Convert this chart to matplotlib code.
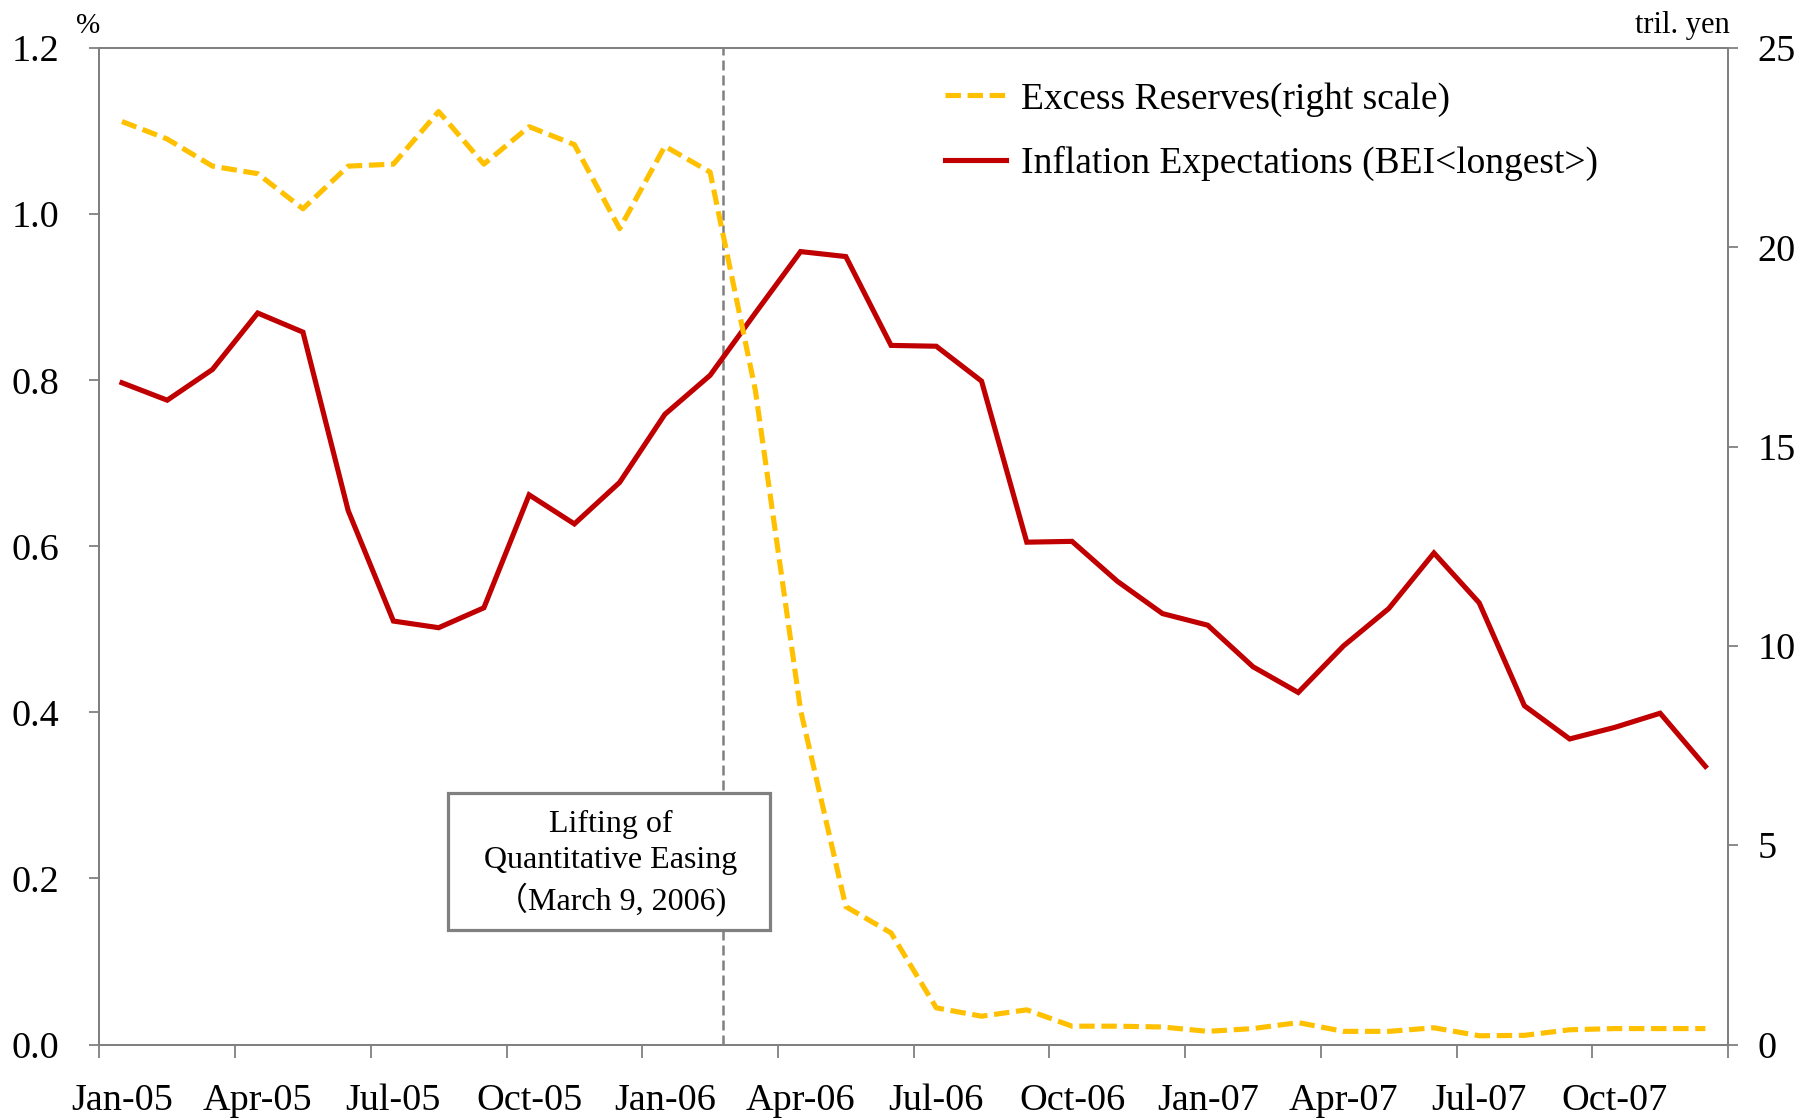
import numpy as np
import matplotlib.pyplot as plt
from matplotlib.lines import Line2D
from matplotlib.patches import Rectangle

plt.rcParams['font.family'] = ['Liberation Serif', 'Noto Sans CJK JP', 'DejaVu Sans']

# monthly data, Jan-05 .. Dec-07
months = ['Jan-05', 'Feb-05', 'Mar-05', 'Apr-05', 'May-05', 'Jun-05',
          'Jul-05', 'Aug-05', 'Sep-05', 'Oct-05', 'Nov-05', 'Dec-05',
          'Jan-06', 'Feb-06', 'Mar-06', 'Apr-06', 'May-06', 'Jun-06',
          'Jul-06', 'Aug-06', 'Sep-06', 'Oct-06', 'Nov-06', 'Dec-06',
          'Jan-07', 'Feb-07', 'Mar-07', 'Apr-07', 'May-07', 'Jun-07',
          'Jul-07', 'Aug-07', 'Sep-07', 'Oct-07', 'Nov-07', 'Dec-07']

# inflation expectations, BEI <longest> (%, left scale)
bei = [0.797, 0.776, 0.813, 0.881, 0.858, 0.643,
       0.510, 0.502, 0.526, 0.662, 0.627, 0.677,
       0.759, 0.806, 0.881, 0.955, 0.949, 0.842,
       0.841, 0.799, 0.605, 0.606, 0.558, 0.519,
       0.505, 0.455, 0.424, 0.480, 0.525, 0.592,
       0.532, 0.408, 0.368, 0.382, 0.399, 0.335]

# excess reserves (tril. yen, right scale)
reserves = [23.16, 22.72, 22.04, 21.85, 20.97, 22.04,
            22.09, 23.41, 22.09, 23.03, 22.58, 20.47,
            22.54, 21.89, 16.42, 8.39, 3.46, 2.80,
            0.92, 0.71, 0.87, 0.46, 0.46, 0.44,
            0.33, 0.40, 0.55, 0.33, 0.33, 0.42,
            0.22, 0.23, 0.37, 0.40, 0.40, 0.40]

left_ticks = [0.0, 0.2, 0.4, 0.6, 0.8, 1.0, 1.2]
right_ticks = [0, 5, 10, 15, 20, 25]
qe_lift = 13.28  # March 9, 2006 on the category axis

red = '#C00000'
yellow = '#FFC000'
gray = '#808080'

x = np.arange(len(months))

fig = plt.figure(figsize=(18, 11.2), dpi=100)
ax = fig.add_axes([0.0552, 0.0674, 0.9048, 0.8896])
ax2 = ax.twinx()

ax.plot(x, bei, color=red, lw=3.7, solid_joinstyle='miter')
ax2.plot(x, reserves, color=yellow, lw=3.7, dashes=(3.0, 1.3))

ax.axvline(qe_lift, color=gray, lw=1.8, dashes=(4, 2), zorder=1)

ax.set_xlim(-0.5, len(months) - 0.5)
ax.set_ylim(0, 1.2)
ax2.set_ylim(0, 25)

# ticks at category boundaries, labels at category centres
ax.set_xticks(np.arange(-0.5, len(months), 3))
ax.set_xticklabels([])
ax.set_xticks(x[::3], minor=True)
ax.set_xticklabels(months[::3], minor=True)
ax.tick_params(axis='x', which='major', length=9, width=1.3, color=gray)
ax.tick_params(axis='x', which='minor', length=0, pad=28, labelsize=27.5)

ax.set_yticks(left_ticks)
ax.set_yticklabels([f'{v:.1f}' for v in left_ticks])
ax.tick_params(axis='y', length=7, width=1.3, color=gray, pad=22, labelsize=27.5)

ax2.set_yticks(right_ticks)
ax2.tick_params(axis='y', length=7, width=1.3, color=gray, pad=14, labelsize=27.5)

for a in (ax, ax2):
    for s in a.spines.values():
        s.set_color(gray)
        s.set_linewidth(1.4)

# unit labels
fig.text(0.0489, 0.977, '%', fontsize=21, ha='center', va='center')
fig.text(0.9608, 0.977, 'tril. yen', fontsize=22, ha='right', va='center')

# annotation box for the QE lifting
box = Rectangle((0.2143, 0.1149), 0.1975, 0.1372, transform=ax2.transAxes,
                facecolor='white', edgecolor=gray, lw=2.3, zorder=5)
ax2.add_patch(box)
ax2.text(0.3140, 0.1815, 'Lifting of\nQuantitative Easing\n（March 9, 2006)',
         transform=ax2.transAxes, ha='center', va='center', fontsize=23,
         linespacing=1.3, zorder=6)

handles = [Line2D([], [], color=yellow, lw=3.7, dashes=(3.0, 1.3)),
           Line2D([], [], color=red, lw=3.7)]
labels = ['Excess Reserves(right scale)', 'Inflation Expectations (BEI<longest>)']
ax2.legend(handles, labels, loc='upper left', bbox_to_anchor=(0.519, 0.966),
           frameon=False, fontsize=27, borderpad=0, borderaxespad=0,
           handlelength=1.63, handletextpad=0.42, labelspacing=0.78)

fig.savefig('out.png', dpi=100)
